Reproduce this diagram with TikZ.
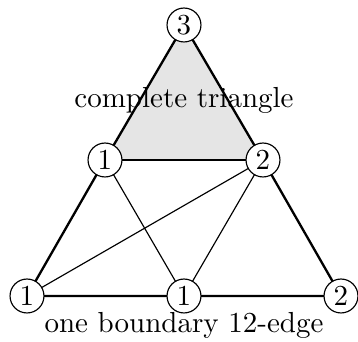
\documentclass[tikz,border=0pt]{standalone}
\begin{document}
\begin{tikzpicture}[x=0.3448pt,y=-0.3448pt,
  vtx/.style={circle,draw,fill=white,inner sep=0pt,minimum size=11.7pt,line width=0.4pt},
  outer/.style={line width=0.8pt},
  inner/.style={line width=0.4pt}]
\useasboundingbox (0,0) rectangle (358,342);
\coordinate (t) at (184,25);
\coordinate (ml) at (105,160);
\coordinate (mr) at (263,160);
\fill[black!10] (t) -- (ml) -- (mr) -- cycle;
\draw[outer] (t) -- (ml) -- (27,296) -- (184,296) -- (341,296) -- (mr) -- cycle;
\draw[outer] (ml) -- (mr);
\draw[inner] (ml) -- (184,296) -- (mr) -- (27,296);
\node[vtx] (n3) at (t) {3};
\node[vtx] (n1a) at (ml) {1};
\node[vtx] (n2a) at (mr) {2};
\node[vtx] (b1) at (27,296) {1};
\node[vtx] (b2) at (184,296) {1};
\node[vtx] (b3) at (341,296) {2};
\node (lab1) at (184,100) {complete triangle};
\node (lab2) at (184,325) {one boundary 12-edge};
\end{tikzpicture}
\end{document}
